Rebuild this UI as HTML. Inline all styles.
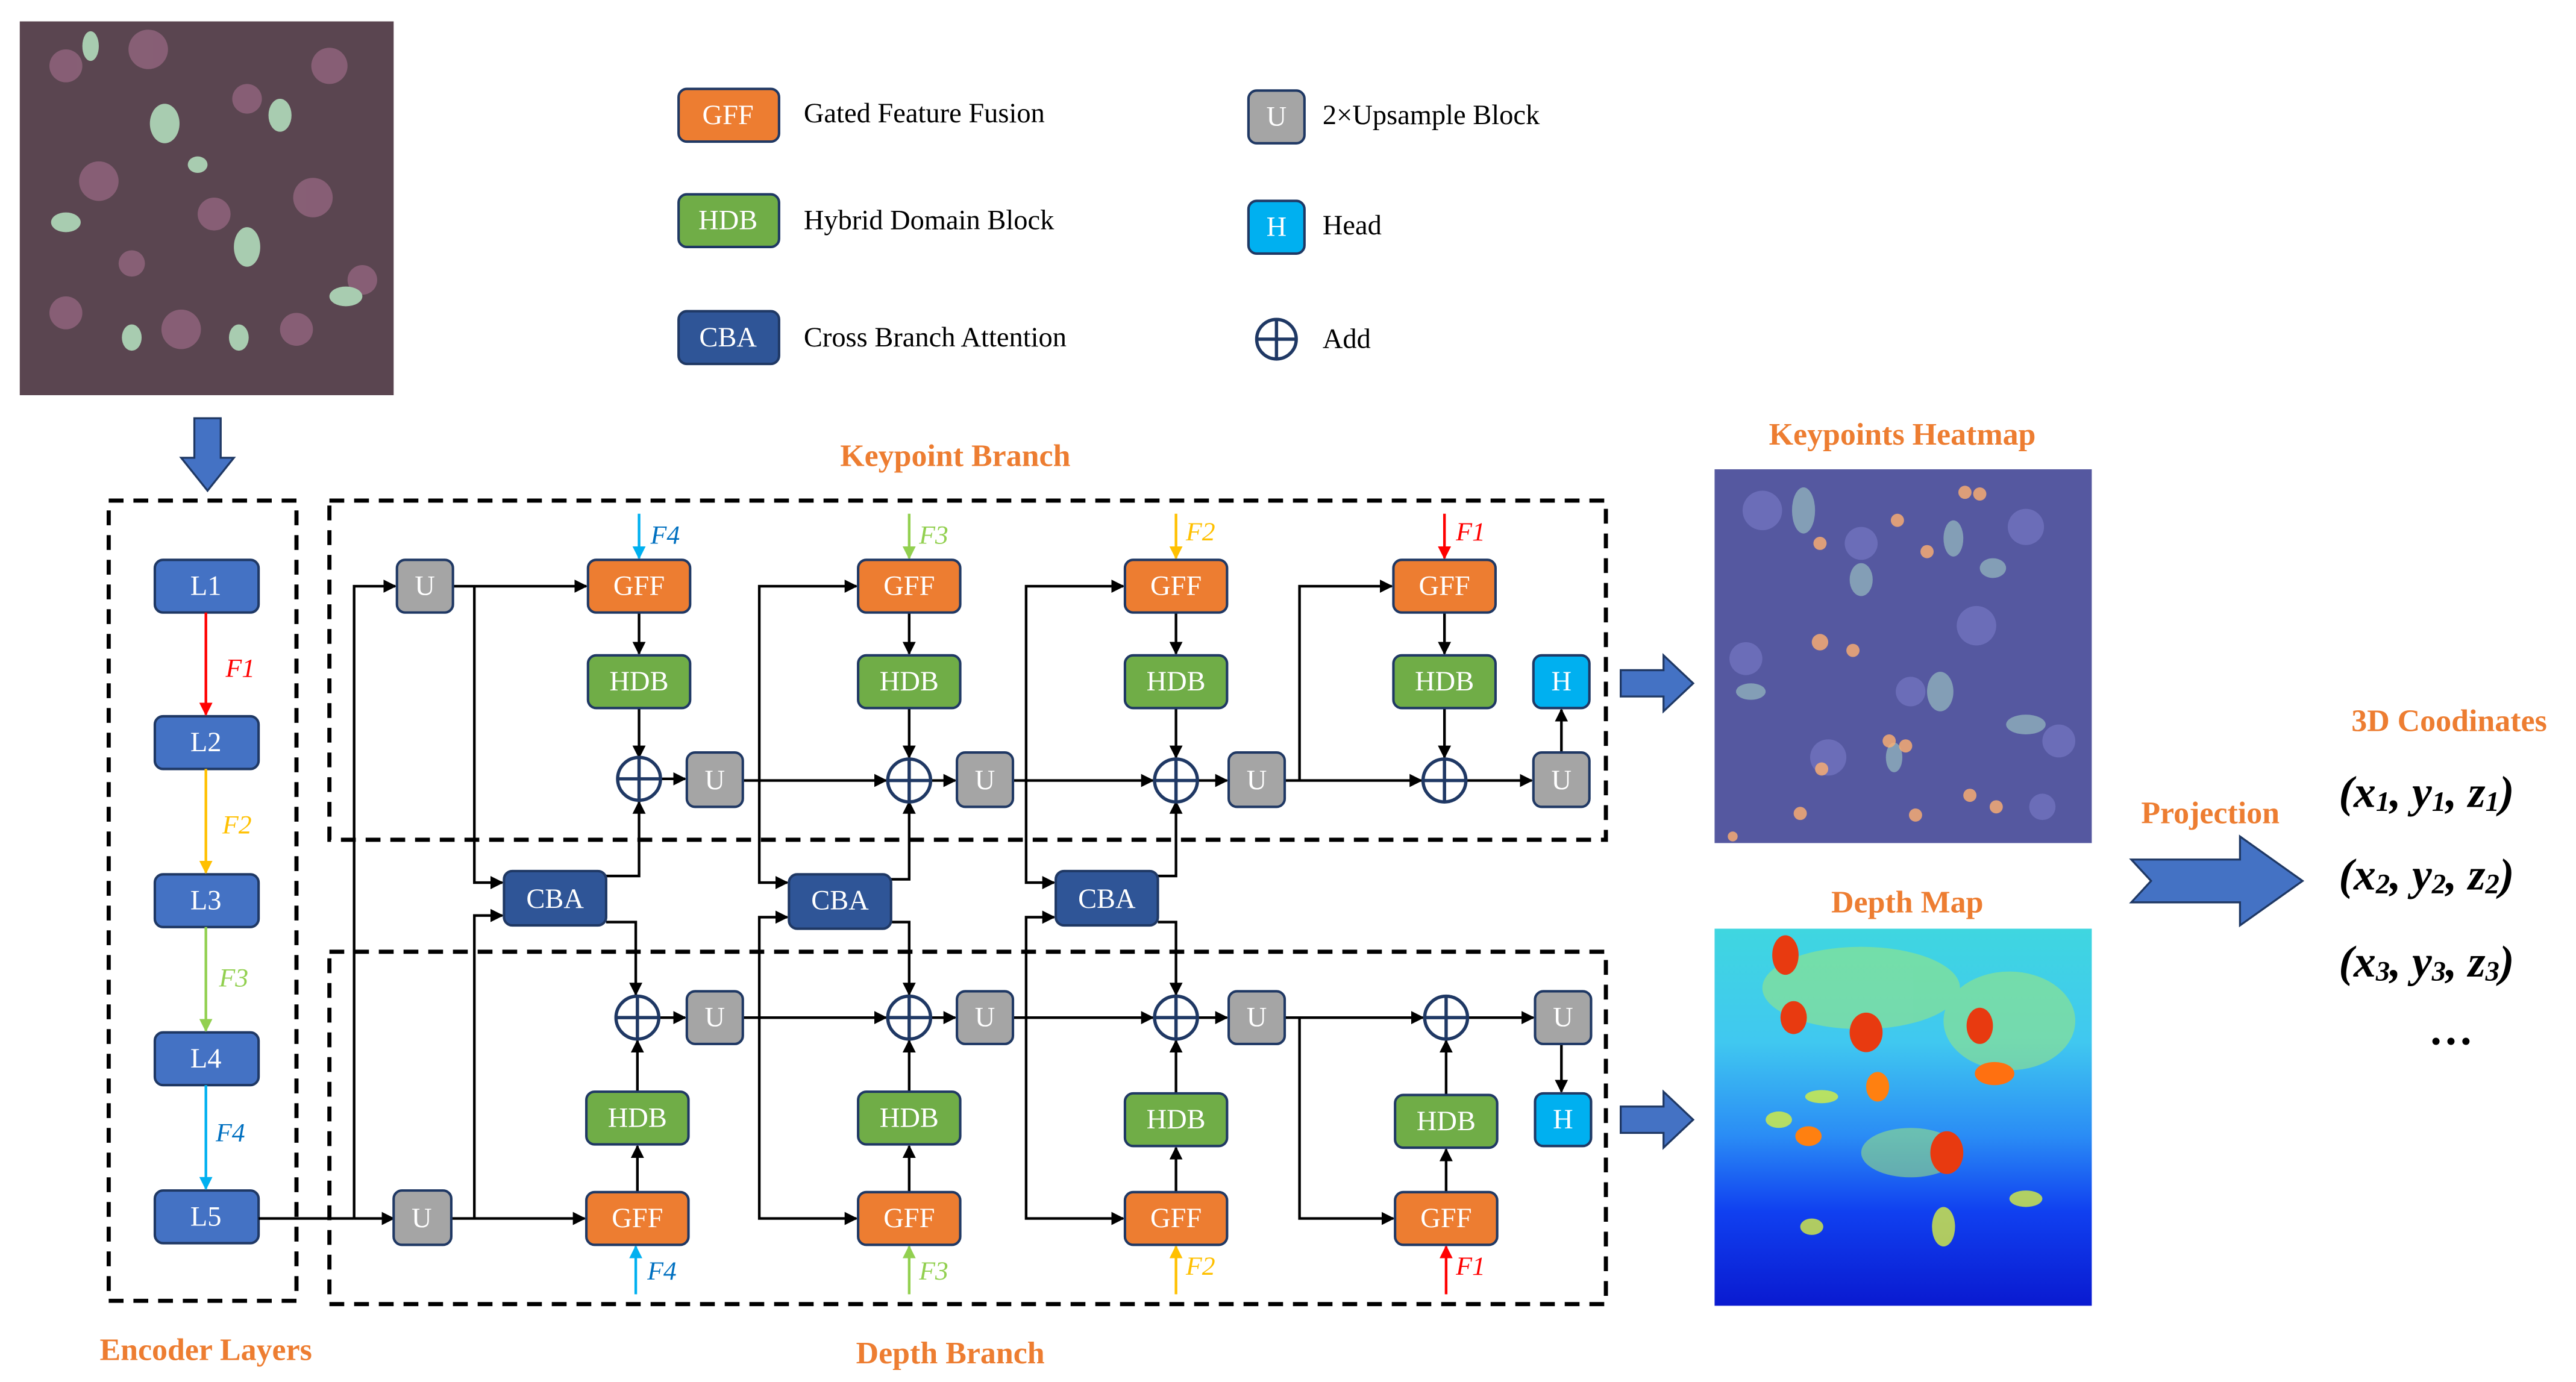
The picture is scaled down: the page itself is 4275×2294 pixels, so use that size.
<!DOCTYPE html>
<html><head><meta charset="utf-8"><style>
html,body{margin:0;padding:0;background:#fff}
svg{display:block}
.t{font-family:"Liberation Serif",serif;font-size:17px;fill:#fff;text-anchor:middle;dominant-baseline:central}
.lg{font-family:"Liberation Serif",serif;font-size:17px;fill:#000;dominant-baseline:central}
.ti{font-family:"Liberation Serif",serif;font-size:19px;font-weight:bold;fill:#ED7D31;text-anchor:middle;dominant-baseline:central}
.f{font-family:"Liberation Serif",serif;font-style:italic;font-size:16px;dominant-baseline:central}
.ln{stroke:#000;stroke-width:1.6;fill:none}
.ar{stroke:#000;stroke-width:1.6;fill:none;marker-end:url(#a)}
.m{font-family:"Liberation Serif",serif;font-weight:bold;font-style:italic;font-size:27px;fill:#000;dominant-baseline:central}
</style></head><body>
<svg width="4275" height="2294" viewBox="0 0 1564 839.3" preserveAspectRatio="none" xmlns="http://www.w3.org/2000/svg">
<defs>
<marker id="a" viewBox="0 0 10 10" refX="9" refY="5" markerWidth="5" markerHeight="5" orient="auto"><path d="M0,0L10,5L0,10z" fill="#000"/></marker>
<marker id="ar" viewBox="0 0 10 10" refX="9" refY="5" markerWidth="5" markerHeight="5" orient="auto"><path d="M0,0L10,5L0,10z" fill="#FF0000"/></marker>
<marker id="ay" viewBox="0 0 10 10" refX="9" refY="5" markerWidth="5" markerHeight="5" orient="auto"><path d="M0,0L10,5L0,10z" fill="#FFC000"/></marker>
<marker id="ag" viewBox="0 0 10 10" refX="9" refY="5" markerWidth="5" markerHeight="5" orient="auto"><path d="M0,0L10,5L0,10z" fill="#92D050"/></marker>
<marker id="ac" viewBox="0 0 10 10" refX="9" refY="5" markerWidth="5" markerHeight="5" orient="auto"><path d="M0,0L10,5L0,10z" fill="#00B0F0"/></marker>
<linearGradient id="dg" x1="0" y1="0" x2="0" y2="1">
<stop offset="0" stop-color="#3fd6e0"/><stop offset="0.3" stop-color="#40c8f0"/><stop offset="0.55" stop-color="#2a8cf5"/><stop offset="0.75" stop-color="#1040f0"/><stop offset="1" stop-color="#0a1ad0"/></linearGradient>
</defs>

<!-- input photo -->
<rect x="12" y="13" width="227" height="227" fill="#5a4550"/>
<g fill="#9a6a85" opacity="0.7">
<circle cx="40" cy="40" r="10"/><circle cx="90" cy="30" r="12"/><circle cx="150" cy="60" r="9"/><circle cx="200" cy="40" r="11"/><circle cx="60" cy="110" r="12"/><circle cx="130" cy="130" r="10"/><circle cx="190" cy="120" r="12"/><circle cx="40" cy="190" r="10"/><circle cx="110" cy="200" r="12"/><circle cx="180" cy="200" r="10"/><circle cx="220" cy="170" r="9"/><circle cx="80" cy="160" r="8"/>
</g>
<g fill="#a8ccb0">
<ellipse cx="100" cy="75" rx="9" ry="12"/><ellipse cx="170" cy="70" rx="7" ry="10"/><ellipse cx="55" cy="28" rx="5" ry="9"/><ellipse cx="150" cy="150" rx="8" ry="12"/><ellipse cx="40" cy="135" rx="9" ry="6"/><ellipse cx="210" cy="180" rx="10" ry="6"/><ellipse cx="120" cy="100" rx="6" ry="5"/><ellipse cx="80" cy="205" rx="6" ry="8"/><ellipse cx="145" cy="205" rx="6" ry="8"/></g>

<!-- down arrow -->
<path d="M118,254H134V278H142L126,298L110,278H118Z" fill="#4472C4" stroke="#1F3864" stroke-width="1.2"/>

<!-- legend -->
<rect x="412" y="54" width="61" height="32" rx="5" fill="#ED7D31" stroke="#1F3864" stroke-width="1.5"/><text class="t" x="442" y="70">GFF</text>
<text class="lg" x="488" y="69">Gated Feature Fusion</text>
<rect x="412" y="118" width="61" height="32" rx="5" fill="#70AD47" stroke="#1F3864" stroke-width="1.5"/><text class="t" x="442" y="134">HDB</text>
<text class="lg" x="488" y="134">Hybrid Domain Block</text>
<rect x="412" y="189" width="61" height="32" rx="5" fill="#2F5597" stroke="#1F3864" stroke-width="1.5"/><text class="t" x="442" y="205">CBA</text>
<text class="lg" x="488" y="205">Cross Branch Attention</text>
<rect x="758" y="55" width="34" height="32" rx="5" fill="#A5A5A5" stroke="#1F3864" stroke-width="1.5"/><text class="t" x="775" y="71">U</text>
<text class="lg" x="803" y="70">2×Upsample Block</text>
<rect x="758" y="122" width="34" height="32" rx="5" fill="#00B0F0" stroke="#1F3864" stroke-width="1.5"/><text class="t" x="775" y="138">H</text>
<text class="lg" x="803" y="137">Head</text>
<circle cx="775" cy="206" r="12" fill="none" stroke="#1F3864" stroke-width="2"/><path d="M763,206H787M775,194V218" stroke="#1F3864" stroke-width="2"/>
<text class="lg" x="803" y="206">Add</text>

<!-- dashed boxes -->
<rect x="66" y="304" width="114" height="486" fill="none" stroke="#000" stroke-width="2.5" stroke-dasharray="9,6"/>
<rect x="200" y="304" width="775" height="206" fill="none" stroke="#000" stroke-width="2.5" stroke-dasharray="9,6"/>
<rect x="200" y="578" width="775" height="214" fill="none" stroke="#000" stroke-width="2.5" stroke-dasharray="9,6"/>
<text class="ti" x="125" y="820">Encoder Layers</text>
<text class="ti" x="580" y="277">Keypoint Branch</text>
<text class="ti" x="577" y="822">Depth Branch</text>

<!-- encoder -->
<g fill="#4472C4" stroke="#1F3864" stroke-width="1.5">
<rect x="94" y="340" width="63" height="32" rx="5"/><rect x="94" y="435" width="63" height="32" rx="5"/><rect x="94" y="531" width="63" height="32" rx="5"/><rect x="94" y="627" width="63" height="32" rx="5"/><rect x="94" y="723" width="63" height="32" rx="5"/></g>
<text class="t" x="125" y="356">L1</text><text class="t" x="125" y="451">L2</text><text class="t" x="125" y="547">L3</text><text class="t" x="125" y="643">L4</text><text class="t" x="125" y="739">L5</text>
<path d="M125,372V434" stroke="#FF0000" stroke-width="1.6" marker-end="url(#ar)"/>
<path d="M125,467V530" stroke="#FFC000" stroke-width="1.6" marker-end="url(#ay)"/>
<path d="M125,563V626" stroke="#92D050" stroke-width="1.6" marker-end="url(#ag)"/>
<path d="M125,659V722" stroke="#00B0F0" stroke-width="1.6" marker-end="url(#ac)"/>
<text class="f" x="137" y="406" fill="#FF0000">F1</text>
<text class="f" x="135" y="501" fill="#FFC000">F2</text>
<text class="f" x="133" y="594" fill="#92D050">F3</text>
<text class="f" x="131" y="688" fill="#0070C0">F4</text>

<!-- connectors -->
<g>
<path class="ln" d="M157,740H215"/>
<path class="ar" d="M215,740H239"/>
<path class="ar" d="M215,740V356H240"/>
<!-- top U outputs -->
<path class="ar" d="M275,356H356"/>
<path class="ar" d="M288,356V536H305"/>
<!-- bottom U outputs -->
<path class="ar" d="M274,740H355"/>
<path class="ar" d="M288,740V556H305"/>
<!-- CBA1 -->
<path class="ar" d="M368,532H388V487"/>
<path class="ar" d="M368,560H386V604"/>
<!-- CBA2 -->
<path class="ar" d="M541,534H552V487"/>
<path class="ar" d="M541,560H552V604"/>
<!-- CBA3 -->
<path class="ar" d="M703,532H714V487"/>
<path class="ar" d="M703,560H714V604"/>

<!-- keypoint vertical chains -->
<path class="ar" d="M388,372V397"/><path class="ar" d="M388,430V460"/>
<path class="ar" d="M552,372V397"/><path class="ar" d="M552,430V460"/>
<path class="ar" d="M714,372V397"/><path class="ar" d="M714,430V460"/>
<path class="ar" d="M877,372V397"/><path class="ar" d="M877,430V460"/>
<path class="ar" d="M401,473H416"/><path class="ar" d="M565,474H580"/><path class="ar" d="M727,474H745"/>
<path class="ar" d="M451,474H538"/><path class="ar" d="M461,474V356H520"/><path class="ar" d="M461,474V536H478"/>
<path class="ar" d="M615,474H700"/><path class="ar" d="M623,474V356H682"/><path class="ar" d="M623,474V536H640"/>
<path class="ar" d="M780,474H863"/><path class="ar" d="M789,474V356H845"/>
<path class="ar" d="M890,474H930"/>
<path class="ar" d="M948,457V431"/>

<!-- depth vertical chains -->
<path class="ar" d="M387,724V696"/><path class="ar" d="M387,663V632"/>
<path class="ar" d="M552,724V696"/><path class="ar" d="M552,663V632"/>
<path class="ar" d="M714,724V697"/><path class="ar" d="M714,664V632"/>
<path class="ar" d="M878,724V698"/><path class="ar" d="M878,665V632"/>
<path class="ar" d="M400,618H416"/><path class="ar" d="M565,618H580"/><path class="ar" d="M727,618H745"/>
<path class="ar" d="M451,618H538"/><path class="ar" d="M461,618V740H520"/><path class="ar" d="M461,618V557H478"/>
<path class="ar" d="M615,618H700"/><path class="ar" d="M623,618V740H682"/><path class="ar" d="M623,618V557H640"/>
<path class="ar" d="M780,618H864"/><path class="ar" d="M789,618V740H846"/>
<path class="ar" d="M891,618H931"/>
<path class="ar" d="M948,634V663"/>
</g>

<!-- F arrows into GFFs -->
<path d="M388,312V339" stroke="#00B0F0" stroke-width="1.6" marker-end="url(#ac)"/><text class="f" x="395" y="325" fill="#0070C0">F4</text>
<path d="M552,312V339" stroke="#92D050" stroke-width="1.6" marker-end="url(#ag)"/><text class="f" x="558" y="325" fill="#92D050">F3</text>
<path d="M714,312V339" stroke="#FFC000" stroke-width="1.6" marker-end="url(#ay)"/><text class="f" x="720" y="323" fill="#FFC000">F2</text>
<path d="M877,312V339" stroke="#FF0000" stroke-width="1.6" marker-end="url(#ar)"/><text class="f" x="884" y="323" fill="#FF0000">F1</text>
<path d="M386,786V757" stroke="#00B0F0" stroke-width="1.6" marker-end="url(#ac)"/><text class="f" x="393" y="772" fill="#0070C0">F4</text>
<path d="M552,786V757" stroke="#92D050" stroke-width="1.6" marker-end="url(#ag)"/><text class="f" x="558" y="772" fill="#92D050">F3</text>
<path d="M714,786V757" stroke="#FFC000" stroke-width="1.6" marker-end="url(#ay)"/><text class="f" x="720" y="769" fill="#FFC000">F2</text>
<path d="M878,786V757" stroke="#FF0000" stroke-width="1.6" marker-end="url(#ar)"/><text class="f" x="884" y="769" fill="#FF0000">F1</text>

<!-- blocks -->
<g stroke="#1F3864" stroke-width="1.5">
<g fill="#A5A5A5">
<rect x="241" y="340" width="34" height="32" rx="5"/><rect x="239" y="723" width="35" height="33" rx="5"/>
<rect x="417" y="457" width="34" height="33" rx="5"/><rect x="581" y="457" width="34" height="33" rx="5"/><rect x="746" y="457" width="34" height="33" rx="5"/><rect x="931" y="457" width="34" height="33" rx="5"/>
<rect x="417" y="602" width="34" height="32" rx="5"/><rect x="581" y="602" width="34" height="32" rx="5"/><rect x="746" y="602" width="34" height="32" rx="5"/><rect x="932" y="602" width="34" height="32" rx="5"/>
</g>
<g fill="#ED7D31">
<rect x="357" y="340" width="62" height="32" rx="5"/><rect x="521" y="340" width="62" height="32" rx="5"/><rect x="683" y="340" width="62" height="32" rx="5"/><rect x="846" y="340" width="62" height="32" rx="5"/>
<rect x="356" y="724" width="62" height="32" rx="5"/><rect x="521" y="724" width="62" height="32" rx="5"/><rect x="683" y="724" width="62" height="32" rx="5"/><rect x="847" y="724" width="62" height="32" rx="5"/>
</g>
<g fill="#70AD47">
<rect x="357" y="398" width="62" height="32" rx="5"/><rect x="521" y="398" width="62" height="32" rx="5"/><rect x="683" y="398" width="62" height="32" rx="5"/><rect x="846" y="398" width="62" height="32" rx="5"/>
<rect x="356" y="663" width="62" height="32" rx="5"/><rect x="521" y="663" width="62" height="32" rx="5"/><rect x="683" y="664" width="62" height="32" rx="5"/><rect x="847" y="665" width="62" height="32" rx="5"/>
</g>
<g fill="#2F5597">
<rect x="306" y="529" width="62" height="33" rx="5"/><rect x="479" y="531" width="62" height="33" rx="5"/><rect x="641" y="529" width="62" height="33" rx="5"/>
</g>
<g fill="#00B0F0">
<rect x="931" y="398" width="34" height="32" rx="5"/><rect x="932" y="664" width="34" height="32" rx="5"/>
</g>
</g>
<g fill="#fff" stroke="#1F3864" stroke-width="2">
<circle cx="388" cy="473" r="13"/><circle cx="552" cy="474" r="13"/><circle cx="714" cy="474" r="13"/><circle cx="877" cy="474" r="13"/>
<circle cx="387" cy="618" r="13"/><circle cx="552" cy="618" r="13"/><circle cx="714" cy="618" r="13"/><circle cx="878" cy="618" r="13"/>
</g>
<g stroke="#1F3864" stroke-width="2">
<path d="M375,473H401M388,460V486"/><path d="M539,474H565M552,461V487"/><path d="M701,474H727M714,461V487"/><path d="M864,474H890M877,461V487"/>
<path d="M374,618H400M387,605V631"/><path d="M539,618H565M552,605V631"/><path d="M701,618H727M714,605V631"/><path d="M865,618H891M878,605V631"/>
</g>
<g>
<text class="t" x="258" y="356">U</text><text class="t" x="256" y="740">U</text>
<text class="t" x="434" y="474">U</text><text class="t" x="598" y="474">U</text><text class="t" x="763" y="474">U</text><text class="t" x="948" y="474">U</text>
<text class="t" x="434" y="618">U</text><text class="t" x="598" y="618">U</text><text class="t" x="763" y="618">U</text><text class="t" x="949" y="618">U</text>
<text class="t" x="388" y="356">GFF</text><text class="t" x="552" y="356">GFF</text><text class="t" x="714" y="356">GFF</text><text class="t" x="877" y="356">GFF</text>
<text class="t" x="387" y="740">GFF</text><text class="t" x="552" y="740">GFF</text><text class="t" x="714" y="740">GFF</text><text class="t" x="878" y="740">GFF</text>
<text class="t" x="388" y="414">HDB</text><text class="t" x="552" y="414">HDB</text><text class="t" x="714" y="414">HDB</text><text class="t" x="877" y="414">HDB</text>
<text class="t" x="387" y="679">HDB</text><text class="t" x="552" y="679">HDB</text><text class="t" x="714" y="680">HDB</text><text class="t" x="878" y="681">HDB</text>
<text class="t" x="337" y="546">CBA</text><text class="t" x="510" y="547">CBA</text><text class="t" x="672" y="546">CBA</text>
<text class="t" x="948" y="414">H</text><text class="t" x="949" y="680">H</text>
</g>

<!-- right block arrows -->
<path d="M984,407H1010V398L1028,415L1010,432V423H984Z" fill="#4472C4" stroke="#1F3864" stroke-width="1.2"/>
<path d="M984,672H1010V663L1028,680L1010,697V688H984Z" fill="#4472C4" stroke="#1F3864" stroke-width="1.2"/>

<!-- heatmap -->
<text class="ti" x="1155" y="264">Keypoints Heatmap</text>
<rect x="1041" y="285" width="229" height="227" fill="#5558a0"/>
<g fill="#7a7cc8" opacity="0.6">
<circle cx="1070" cy="310" r="12"/><circle cx="1130" cy="330" r="10"/><circle cx="1230" cy="320" r="11"/><circle cx="1060" cy="400" r="10"/><circle cx="1200" cy="380" r="12"/><circle cx="1110" cy="460" r="11"/><circle cx="1250" cy="450" r="10"/><circle cx="1160" cy="420" r="9"/><circle cx="1240" cy="490" r="8"/></g>
<g fill="#8fb0bc" opacity="0.8">
<ellipse cx="1095" cy="310" rx="7" ry="14"/><ellipse cx="1130" cy="352" rx="7" ry="10"/><ellipse cx="1186" cy="327" rx="6" ry="11"/><ellipse cx="1178" cy="420" rx="8" ry="12"/><ellipse cx="1063" cy="420" rx="9" ry="5"/><ellipse cx="1230" cy="440" rx="12" ry="6"/><ellipse cx="1150" cy="460" rx="5" ry="9"/><ellipse cx="1210" cy="345" rx="8" ry="6"/></g>
<g fill="#ffb070" opacity="0.8">
<circle cx="1193" cy="299" r="4"/><circle cx="1202" cy="300" r="4"/><circle cx="1152" cy="316" r="4"/><circle cx="1105" cy="330" r="4"/><circle cx="1170" cy="335" r="4"/><circle cx="1105" cy="390" r="5"/><circle cx="1125" cy="395" r="4"/><circle cx="1147" cy="450" r="4"/><circle cx="1157" cy="453" r="4"/><circle cx="1106" cy="467" r="4"/><circle cx="1196" cy="483" r="4"/><circle cx="1212" cy="490" r="4"/><circle cx="1093" cy="494" r="4"/><circle cx="1163" cy="495" r="4"/><circle cx="1052" cy="508" r="3"/></g>

<!-- depth map -->
<text class="ti" x="1158" y="548">Depth Map</text>
<rect x="1041" y="564" width="229" height="229" fill="url(#dg)"/>
<g fill="#9ee87a" opacity="0.55"><ellipse cx="1130" cy="600" rx="60" ry="25"/><ellipse cx="1220" cy="620" rx="40" ry="30"/><ellipse cx="1160" cy="700" rx="30" ry="15"/></g>
<g fill="#e83a10">
<ellipse cx="1084" cy="580" rx="8" ry="12"/><ellipse cx="1089" cy="618" rx="8" ry="10"/><ellipse cx="1133" cy="627" rx="10" ry="12"/><ellipse cx="1202" cy="623" rx="8" ry="11"/><ellipse cx="1211" cy="652" rx="12" ry="7" fill="#ff7010"/><ellipse cx="1140" cy="660" rx="7" ry="9" fill="#ff8010"/><ellipse cx="1182" cy="700" rx="10" ry="13"/><ellipse cx="1098" cy="690" rx="8" ry="6" fill="#ff8010"/></g>
<g fill="#d8f040" opacity="0.8"><ellipse cx="1080" cy="680" rx="8" ry="5"/><ellipse cx="1106" cy="666" rx="10" ry="4"/><ellipse cx="1180" cy="745" rx="7" ry="12"/><ellipse cx="1230" cy="728" rx="10" ry="5"/><ellipse cx="1100" cy="745" rx="7" ry="5"/></g>

<!-- projection -->
<text class="ti" x="1342" y="494">Projection</text>
<path d="M1294,522H1360V508L1398,535L1360,562V548H1294L1306,535Z" fill="#4472C4" stroke="#1F3864" stroke-width="1.2"/>
<text class="ti" x="1487" y="438">3D Coodinates</text>
<text class="m" x="1420" y="481">(x<tspan font-size="17" dy="6">1</tspan><tspan dy="-6">, y</tspan><tspan font-size="17" dy="6">1</tspan><tspan dy="-6">, z</tspan><tspan font-size="17" dy="6">1</tspan><tspan dy="-6">)</tspan></text>
<text class="m" x="1420" y="531">(x<tspan font-size="17" dy="6">2</tspan><tspan dy="-6">, y</tspan><tspan font-size="17" dy="6">2</tspan><tspan dy="-6">, z</tspan><tspan font-size="17" dy="6">2</tspan><tspan dy="-6">)</tspan></text>
<text class="m" x="1420" y="584">(x<tspan font-size="17" dy="6">3</tspan><tspan dy="-6">, y</tspan><tspan font-size="17" dy="6">3</tspan><tspan dy="-6">, z</tspan><tspan font-size="17" dy="6">3</tspan><tspan dy="-6">)</tspan></text>
<text class="m" x="1489" y="625" text-anchor="middle">…</text>
</svg>
</body></html>
